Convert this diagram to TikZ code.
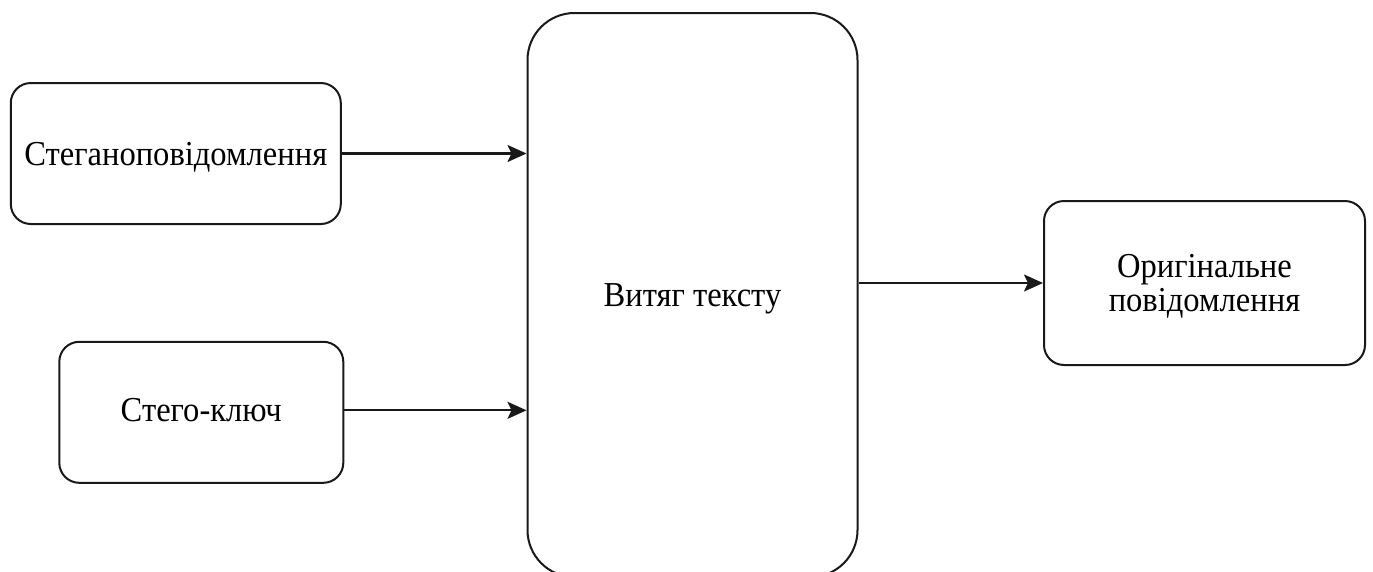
\documentclass[tikz,border=0pt]{standalone}
\usepackage{fontspec}
\setmainfont{Liberation Serif}[FakeStretch=0.93]
\usetikzlibrary{arrows.meta}
\begin{document}
\begin{tikzpicture}[x=1pt,y=-1pt,
  blk/.style={draw=black!90, line width=2pt, rounded corners=20pt, fill=white, inner sep=0pt},
  lbl/.style={inner sep=0pt, align=center, font=\fontsize{35}{33.7}\selectfont},
  conn/.style={draw=black!90, line width=2.2pt,
    -{Stealth[length=19pt, width=17pt, inset=4pt]}}]
\useasboundingbox (0,0) rectangle (1373,571);
\clip (0,0) rectangle (1373,571);

% input blocks
\node[blk, minimum width=330pt, minimum height=141pt] (msg) at (175.8,153.5) {};
\node[blk, minimum width=284pt, minimum height=141pt] (key) at (201.3,412.3) {};

% extraction block (runs past the lower edge)
\node[blk, rounded corners=47pt, minimum width=330pt, minimum height=564pt] (ext) at (692.5,295) {};

% output block
\node[blk, minimum width=321pt, minimum height=164pt] (out) at (1204.5,283) {};

% block captions
\node[lbl, anchor=base] (msgt) at ([yshift=-11.6pt]msg.center) {Стеганоповідомлення};
\node[lbl, anchor=base] (keyt) at ([yshift=-9.5pt]key.center) {Стего-ключ};
\node[lbl, anchor=base] (extt) at ([yshift=-11pt]ext.center) {Витяг тексту};
\node[lbl] (outt) at ([yshift=-3pt]out.center) {Оригінальне\\повідомлення};

% connectors
\draw[conn] (msg.east) -- (msg.east -| ext.west);
\draw[conn] ([yshift=2pt]key.east) -- ([yshift=2pt]key.east -| ext.west);
\draw[conn] (out.west -| ext.east) -- (out.west);
\end{tikzpicture}
\end{document}
